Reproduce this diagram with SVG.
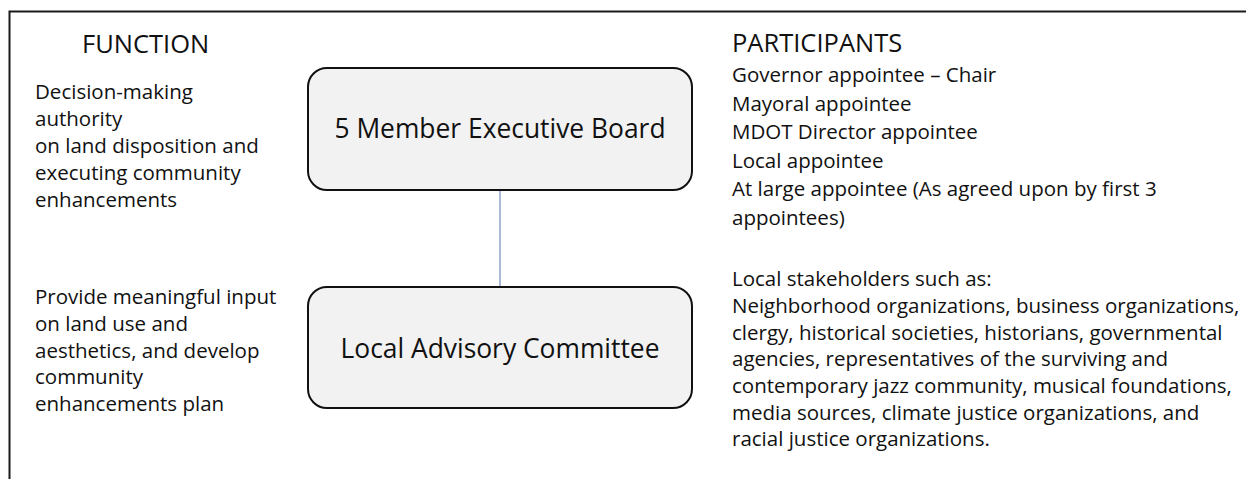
<svg xmlns="http://www.w3.org/2000/svg" width="1246" height="479" viewBox="0 0 1246 479">
  <style>
    .frame { stroke: #1a1a1a; stroke-width: 2; fill: none; }
    .box { fill: #f2f2f2; stroke: #111111; stroke-width: 2; }
    .link { stroke: #8ea2c8; stroke-width: 1.5; fill: none; }
    text { font-family: "Open Sans", "Noto Sans", sans-serif; fill: #111111; }
    .head { font-size: 25.5px; }
    .body { font-size: 20.5px; }
    .label { font-size: 26.4px; text-anchor: middle; }
  </style>

  <!-- page frame: top and left rules -->
  <path class="frame" d="M1246,11.5 H9.5 V479"/>

  <!-- column headings -->
  <text class="head" x="82" y="53">FUNCTION</text>
  <text class="head" x="732" y="52">PARTICIPANTS</text>

  <!-- connectors -->
  <g id="connectors">
    <line class="link" x1="500" y1="190" x2="500" y2="287"/>
  </g>

  <!-- board node -->
  <g id="executive-board">
    <rect class="box" x="308" y="68" width="384" height="122" rx="19" ry="19"/>
    <text class="label" x="500" y="138">5 Member Executive Board</text>
  </g>

  <!-- committee node -->
  <g id="advisory-committee">
    <rect class="box" x="308" y="287" width="384" height="121" rx="19" ry="19"/>
    <text class="label" x="500" y="358">Local Advisory Committee</text>
  </g>

  <!-- board function -->
  <g id="board-function">
    <text class="body" x="35" y="99">Decision-making</text>
    <text class="body" x="35" y="126">authority</text>
    <text class="body" x="35" y="153">on land disposition and</text>
    <text class="body" x="35" y="180">executing community</text>
    <text class="body" x="35" y="206.5">enhancements</text>
  </g>

  <!-- committee function -->
  <g id="committee-function">
    <text class="body" x="35" y="304">Provide meaningful input</text>
    <text class="body" x="35" y="331">on land use and</text>
    <text class="body" x="35" y="357.5">aesthetics, and develop</text>
    <text class="body" x="35" y="384">community</text>
    <text class="body" x="35" y="410.5">enhancements plan</text>
  </g>

  <!-- board participants -->
  <g id="board-participants">
    <text class="body" x="732" y="82">Governor appointee – Chair</text>
    <text class="body" x="732" y="110.5">Mayoral appointee</text>
    <text class="body" x="732" y="139">MDOT Director appointee</text>
    <text class="body" x="732" y="167.5">Local appointee</text>
    <text class="body" x="732" y="196">At large appointee (As agreed upon by first 3</text>
    <text class="body" x="732" y="224.5">appointees)</text>
  </g>

  <!-- committee participants -->
  <g id="committee-participants">
    <text class="body" x="732" y="286">Local stakeholders such as:</text>
    <text class="body" x="732" y="313">Neighborhood organizations, business organizations,</text>
    <text class="body" x="732" y="339.5">clergy, historical societies, historians, governmental</text>
    <text class="body" x="732" y="366">agencies, representatives of the surviving and</text>
    <text class="body" x="732" y="393">contemporary jazz community, musical foundations,</text>
    <text class="body" x="732" y="419.5">media sources, climate justice organizations, and</text>
    <text class="body" x="732" y="446">racial justice organizations.</text>
  </g>
</svg>
